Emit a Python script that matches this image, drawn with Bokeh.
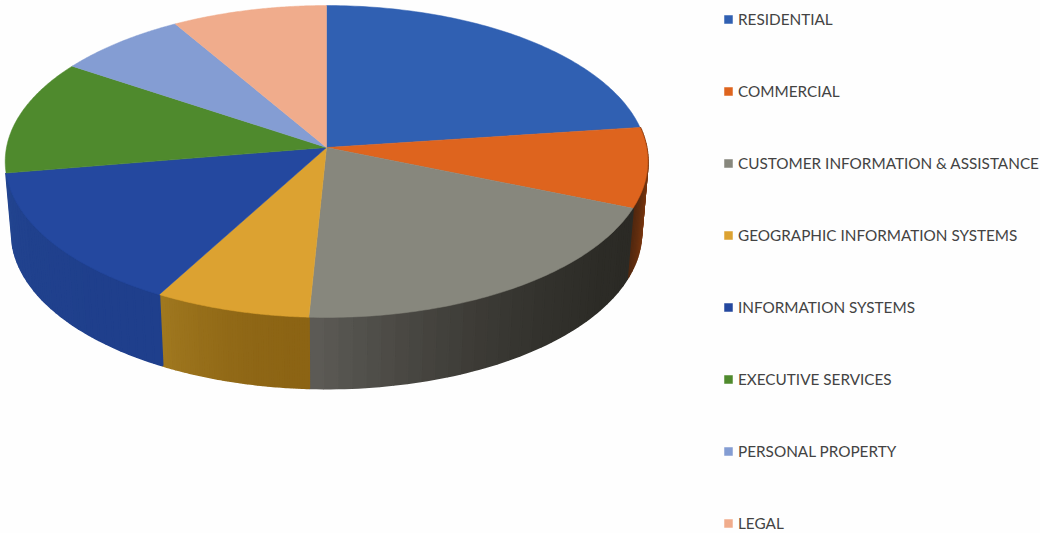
import numpy as np
from bokeh.embed import file_html
from bokeh.models import Legend, LegendItem, Range1d
from bokeh.plotting import figure
from bokeh.resources import INLINE

# Share of the whole, in percent, clockwise from twelve o'clock
categories = [
    "RESIDENTIAL",
    "COMMERCIAL",
    "CUSTOMER INFORMATION & ASSISTANCE",
    "GEOGRAPHIC INFORMATION SYSTEMS",
    "INFORMATION SYSTEMS",
    "EXECUTIVE SERVICES",
    "PERSONAL PROPERTY",
    "LEGAL",
]
shares = [22.9, 8.3, 19.6, 7.2, 14.4, 11.9, 7.2, 8.5]
top_colors = ["#3060b2", "#de641e", "#87877d", "#dca231", "#24489f", "#4f8a2d", "#849dd3", "#f0ac8c"]
# Wall shading of each slice: colour at its clockwise start and at its end
wall_colors = {
    1: ("#8c3d10", "#52280f"),
    2: ("#2b2a25", "#5c5a55"),
    3: ("#8c6414", "#a0781f"),
    4: ("#1f3f8c", "#22448f"),
}

# Tilted disc: the rim is a circle seen in perspective around the hub
HUB_X, HUB_Y = 326, 147
HALF_WIDTH, HALF_DEPTH, PERSPECTIVE = 320.0, 154.7, 0.0897
WALL_DROP, WALL_TAPER = 71, 0.98


def rim(angles):
    u, v = np.sin(angles), np.cos(angles)
    w = 1 + PERSPECTIVE * v
    return HUB_X + HALF_WIDTH * u / w, HUB_Y - HALF_DEPTH * v / w


def mix(start, end, t):
    a = [int(start[i:i + 2], 16) for i in (1, 3, 5)]
    b = [int(end[i:i + 2], 16) for i in (1, 3, 5)]
    return "#%02x%02x%02x" % tuple(round(p + (q - p) * t) for p, q in zip(a, b))


edges = np.radians(np.concatenate([[0], np.cumsum(shares)]) * 360 / sum(shares))

p = figure(width=1040, height=533, output_backend="svg", toolbar_location=None,
           x_range=Range1d(0, 1040), y_range=Range1d(533, 0),
           min_border=0, background_fill_color="#fefefe", border_fill_color="#fefefe",
           outline_line_color=None)
p.axis.visible = False
p.grid.visible = False

# Side wall of the slices facing the viewer, built from overlapping shaded strips
for idx, (start_col, end_col) in wall_colors.items():
    steps = np.linspace(edges[idx], edges[idx + 1], 31)
    for j in range(30):
        seg = np.linspace(steps[j], steps[j + 1], 3)
        x, y = rim(seg)
        bx = HUB_X + (x - HUB_X) * WALL_TAPER
        by = y + WALL_DROP
        col = mix(start_col, end_col, (j / 29) ** 2)
        p.patch(np.concatenate([x, bx[::-1]]), np.concatenate([y, by[::-1]]),
                fill_color=col, line_color=col, line_width=2)

# Top face of the disc
items = []
for idx, name in enumerate(categories):
    seg = np.linspace(edges[idx], edges[idx + 1], 90)
    x, y = rim(seg)
    r = p.patch(np.concatenate([[HUB_X], x]), np.concatenate([[HUB_Y], y]),
                fill_color=top_colors[idx], line_color=top_colors[idx], line_width=0.5)
    items.append(LegendItem(label=name, renderers=[r]))

legend = Legend(items=items, location=(723, 0), orientation="vertical",
                border_line_color=None, background_fill_alpha=0,
                padding=0, margin=0, spacing=52,
                glyph_width=10, glyph_height=10, label_standoff=5, label_height=20,
                label_text_font="Lato", label_text_font_size="15.3px",
                label_text_color="#434343")
p.add_layout(legend, "center")

open("out.html", "w").write(file_html(p, INLINE))
